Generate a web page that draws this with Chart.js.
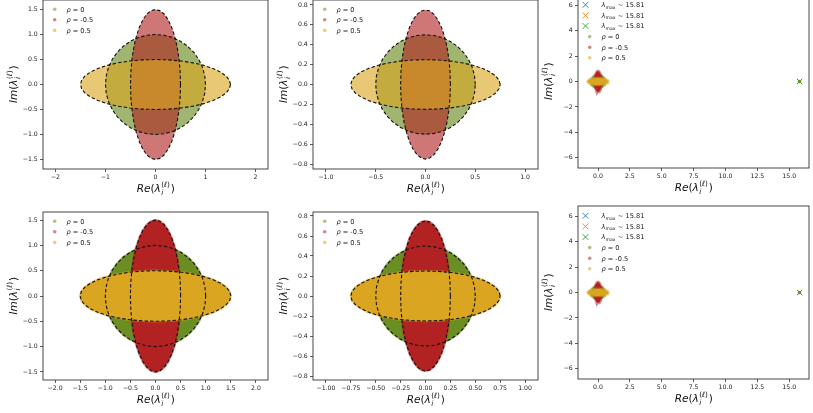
<!DOCTYPE html>
<html>
<head>
<meta charset="utf-8">
<script src="https://cdn.jsdelivr.net/npm/chart.js@4.4.1/dist/chart.umd.min.js"></script>
<style>
  html, body { margin: 0; padding: 0; background: #fff; }
  #fig { position: relative; width: 813px; height: 413px; overflow: hidden; background: #fff; }
  #fig canvas { position: absolute; }
</style>
</head>
<body>
<div id="fig"></div>
<script>
// outline of the unit circle, 10 degree steps (cos, sin)
const unitOutline = [
  [1.000, 0.000], [0.985, 0.174], [0.940, 0.342], [0.866, 0.500], [0.766, 0.643], [0.643, 0.766],
  [0.500, 0.866], [0.342, 0.940], [0.174, 0.985], [0.000, 1.000], [-0.174, 0.985], [-0.342, 0.940],
  [-0.500, 0.866], [-0.643, 0.766], [-0.766, 0.643], [-0.866, 0.500], [-0.940, 0.342], [-0.985, 0.174],
  [-1.000, 0.000], [-0.985, -0.174], [-0.940, -0.342], [-0.866, -0.500], [-0.766, -0.643], [-0.643, -0.766],
  [-0.500, -0.866], [-0.342, -0.940], [-0.174, -0.985], [0.000, -1.000], [0.174, -0.985], [0.342, -0.940],
  [0.500, -0.866], [0.643, -0.766], [0.766, -0.643], [0.866, -0.500], [0.940, -0.342], [0.985, -0.174]
];

// series: rho = 0, -0.5, 0.5
const rhoLabels = ['0', '-0.5', '0.5'];
// semi-axes (Re, Im) of the eigenvalue clouds
const axesLarge = [[1.0, 1.0], [0.5, 1.5], [1.5, 0.5]];
const axesSmall = [[0.5, 0.5], [0.25, 0.75], [0.75, 0.25]];
const axesSpike = [[0.55, 0.55], [0.28, 0.82], [0.82, 0.28]];
const outlierRe = 15.81;
const outlierIm = 0;
const outlierLabel = '15.81';

const ticksA_x = [-2, -1, 0, 1, 2];
const ticksA_y = [-1.5, -1, -0.5, 0, 0.5, 1, 1.5];
const ticksB_x = [-1, -0.5, 0, 0.5, 1];
const ticksB_y = [-0.8, -0.6, -0.4, -0.2, 0, 0.2, 0.4, 0.6, 0.8];
const ticksC_x = [0, 2.5, 5, 7.5, 10, 12.5, 15];
const ticksC_y = [-6, -4, -2, 0, 2, 4, 6];
const ticksD_x = [-2, -1.5, -1, -0.5, 0, 0.5, 1, 1.5, 2];
const ticksE_x = [-1, -0.75, -0.5, -0.25, 0, 0.25, 0.5, 0.75, 1];

// styles
const solidCols = ['#6b8e23', '#b22222', '#daa520'];
const sparseCols = ['rgba(107,142,35,0.65)', 'rgba(178,34,34,0.62)', 'rgba(218,165,32,0.62)'];
const edgeCols = ['rgba(107,142,35,0.55)', 'rgba(178,34,34,0.55)', 'rgba(218,165,32,0.55)'];
const legendCols = ['rgba(107,142,35,0.55)', 'rgba(178,34,34,0.55)', 'rgba(218,165,32,0.55)'];
const crossCols = ['#1f77b4', '#ff7f0e', '#2ca02c'];
const FONT = '"DejaVu Sans", sans-serif';
const TXT = '#222';

const PAD_L = 43, PAD_T = 10, PAD_R = 6, PAD_B = 36;

const panels = [
  { box: [43, 0, 225, 169], xr: [-2.25, 2.25], yr: [-1.69, 1.69], xt: ticksA_x, xd: 0, yt: ticksA_y, yd: 1, clouds: axesLarge, mode: 'sparse' },
  { box: [313, 0, 225, 169], xr: [-1.13, 1.13], yr: [-0.85, 0.85], xt: ticksB_x, xd: 1, yt: ticksB_y, yd: 1, clouds: axesSmall, mode: 'sparse' },
  { box: [578, -5, 231, 173], xr: [-1.57, 16.55], yr: [-6.8, 6.8], xt: ticksC_x, xd: 1, yt: ticksC_y, yd: 0, clouds: axesSpike, mode: 'spike' },
  { box: [43, 212, 225, 168], xr: [-2.24, 2.24], yr: [-1.66, 1.66], xt: ticksD_x, xd: 1, yt: ticksA_y, yd: 1, clouds: axesLarge, mode: 'dense' },
  { box: [313, 212, 225, 168], xr: [-1.13, 1.13], yr: [-0.84, 0.84], xt: ticksE_x, xd: 2, yt: ticksB_y, yd: 1, clouds: axesSmall, mode: 'dense' },
  { box: [578, 206, 231, 173], xr: [-1.57, 16.55], yr: [-6.8, 6.8], xt: ticksC_x, xd: 1, yt: ticksC_y, yd: 0, clouds: axesSpike, mode: 'spike' }
];

function outline(a, b) {
  const pts = unitOutline.map(([c, s]) => ({ x: a * c, y: b * s }));
  pts.push(pts[0]);
  return pts;
}

function fmt(v, d) {
  return Number(v).toFixed(d).replace('-', '\u2212');
}

function drawAxisLabel(ctx, head, cx, cy, vertical) {
  const fs = 10.5, sm = 7.3;
  const fIt = `italic ${fs}px ${FONT}`, fUp = `${fs}px ${FONT}`;
  const sIt = `italic ${sm}px ${FONT}`, sUp = `${sm}px ${FONT}`;
  ctx.save();
  ctx.font = fIt; const wHead = ctx.measureText(head).width, wLam = ctx.measureText('λ').width;
  ctx.font = fUp; const wPar = ctx.measureText('(').width;
  ctx.font = sUp; const wSup = ctx.measureText('()').width;
  ctx.font = sIt; const wEll = ctx.measureText('ℓ').width, wSub = ctx.measureText('i').width;
  const stack = Math.max(wSup + wEll, wSub) + 0.8;
  const total = wHead + wPar + wLam + stack + wPar;
  ctx.translate(cx, cy);
  if (vertical) ctx.rotate(-Math.PI / 2);
  ctx.fillStyle = '#111';
  ctx.textBaseline = 'alphabetic';
  ctx.textAlign = 'left';
  const base = fs * 0.34;
  let x = -total / 2;
  ctx.font = fIt; ctx.fillText(head, x, base); x += wHead;
  ctx.font = fUp; ctx.fillText('(', x, base); x += wPar;
  ctx.font = fIt; ctx.fillText('λ', x, base); x += wLam + 0.4;
  // superscript (ℓ) and subscript i, stacked
  const supY = base - fs * 0.45, subY = base + fs * 0.24;
  let sx = x;
  ctx.font = sUp; ctx.fillText('(', sx, supY); sx += ctx.measureText('(').width;
  ctx.font = sIt; ctx.fillText('ℓ', sx, supY); sx += wEll;
  ctx.font = sUp; ctx.fillText(')', sx, supY);
  ctx.font = sIt; ctx.fillText('i', x, subY);
  x += stack;
  ctx.font = fUp; ctx.fillText(')', x, base);
  ctx.restore();
}

function drawLegend(ctx, a, mode) {
  const fs = 6.6;
  const items = [];
  if (mode === 'spike') {
    crossCols.forEach(c => items.push({ kind: 'x', color: c, sym: 'λ', sub: 'max', rest: ' ~ ' + outlierLabel }));
  }
  rhoLabels.forEach((r, k) => items.push({ kind: 'dot', color: legendCols[k], sym: 'ρ', sub: '', rest: ' = ' + r }));
  const row0 = mode === 'spike' ? 9.8 : 9.2;
  ctx.save();
  ctx.textBaseline = 'alphabetic';
  ctx.textAlign = 'left';
  items.forEach((it, k) => {
    const y = a.top + row0 + k * 10.6;
    if (it.kind === 'x') {
      const cx = a.left + 7.5, r = 2.9;
      ctx.strokeStyle = it.color; ctx.lineWidth = 0.9;
      ctx.beginPath();
      ctx.moveTo(cx - r, y - r); ctx.lineTo(cx + r, y + r);
      ctx.moveTo(cx - r, y + r); ctx.lineTo(cx + r, y - r);
      ctx.stroke();
    } else {
      ctx.fillStyle = it.color;
      ctx.beginPath();
      ctx.arc(a.left + 11.7, y, 1.8, 0, Math.PI * 2);
      ctx.fill();
    }
    let x = a.left + 23.4;
    const base = y + 2.4;
    ctx.fillStyle = TXT;
    ctx.font = `italic ${fs}px ${FONT}`;
    ctx.fillText(it.sym, x, base); x += ctx.measureText(it.sym).width;
    if (it.sub) {
      ctx.font = `${fs * 0.7}px ${FONT}`;
      ctx.fillText(it.sub, x + 0.2, base + 1.6); x += ctx.measureText(it.sub).width + 0.4;
    }
    ctx.font = `${fs}px ${FONT}`;
    ctx.fillText(it.rest, x, base);
  });
  ctx.restore();
}

const decor = {
  id: 'panelDecor',
  afterDatasetsDraw(chart) {
    const { ctx, chartArea: a } = chart;
    const mode = chart.options.plugins.panelDecor.mode;
    ctx.save();
    ctx.strokeStyle = '#333';
    ctx.lineWidth = 0.9;
    ctx.strokeRect(a.left, a.top, a.right - a.left, a.bottom - a.top);
    ctx.restore();
    drawLegend(ctx, a, mode);
    drawAxisLabel(ctx, 'Re', (a.left + a.right) / 2, a.bottom + 19.5, false);
    drawAxisLabel(ctx, 'Im', a.left - 29.5, (a.top + a.bottom) / 2, true);
  }
};

// lower "order" is drawn on top in Chart.js
function buildDatasets(p) {
  const ds = [];
  p.clouds.forEach(([a, b], k) => {
    const base = {
      data: outline(a, b), showLine: true, fill: 'shape', tension: 0,
      pointRadius: 0, order: 30 - k
    };
    if (p.mode === 'sparse') {
      ds.push(Object.assign(base, { backgroundColor: sparseCols[k], borderWidth: 0, borderColor: 'rgba(0,0,0,0)' }));
    } else {
      ds.push(Object.assign(base, { backgroundColor: solidCols[k], borderWidth: 2.4, borderColor: edgeCols[k] }));
    }
  });
  if (p.mode !== 'spike') {
    p.clouds.forEach(([a, b], k) => {
      ds.push({
        data: outline(a, b), showLine: true, fill: false, tension: 0, pointRadius: 0,
        borderColor: '#111', borderWidth: 1.1, borderDash: [3.4, 2.2], order: 20 - k
      });
    });
  } else {
    crossCols.forEach((c, k) => {
      ds.push({
        data: [{ x: outlierRe, y: outlierIm }], showLine: false, pointStyle: 'crossRot',
        pointRadius: 3.6, borderColor: c, borderWidth: 1, backgroundColor: c, order: 10 - k
      });
    });
    ds.push({
      data: [{ x: outlierRe, y: outlierIm }], showLine: false, pointStyle: 'circle',
      pointRadius: 1.7, borderWidth: 0, backgroundColor: solidCols[0], order: 0
    });
  }
  return ds;
}

function axis(range, ticks, dec, isX) {
  return {
    type: 'linear',
    min: range[0], max: range[1],
    afterFit: s => { if (isX) s.height = PAD_B; else s.width = PAD_L; },
    afterBuildTicks: s => { s.ticks = ticks.map(v => ({ value: v })); },
    ticks: {
      callback: v => fmt(v, dec),
      font: { family: FONT, size: 6.2 },
      color: TXT, padding: isX ? 1.6 : 2.2,
      autoSkip: false, maxRotation: 0, minRotation: 0
    },
    grid: { display: true, drawOnChartArea: false, drawTicks: true, tickLength: 3, color: '#333', lineWidth: 0.8 },
    border: { display: false }
  };
}

const fig = document.getElementById('fig');
panels.forEach(p => {
  const [L, T, W, H] = p.box;
  const cw = PAD_L + W + PAD_R, ch = PAD_T + H + PAD_B;
  const cv = document.createElement('canvas');
  cv.width = cw; cv.height = ch;
  cv.style.left = (L - PAD_L) + 'px';
  cv.style.top = (T - PAD_T) + 'px';
  cv.style.width = cw + 'px';
  cv.style.height = ch + 'px';
  fig.appendChild(cv);
  new Chart(cv, {
    type: 'scatter',
    data: { datasets: buildDatasets(p) },
    options: {
      responsive: false, animation: false, events: [], devicePixelRatio: 1,
      layout: { padding: { top: PAD_T, right: PAD_R, left: 0, bottom: 0 } },
      plugins: { legend: { display: false }, tooltip: { enabled: false }, panelDecor: { mode: p.mode } },
      scales: { x: axis(p.xr, p.xt, p.xd, true), y: axis(p.yr, p.yt, p.yd, false) }
    },
    plugins: [decor]
  });
});
</script>
</body>
</html>
